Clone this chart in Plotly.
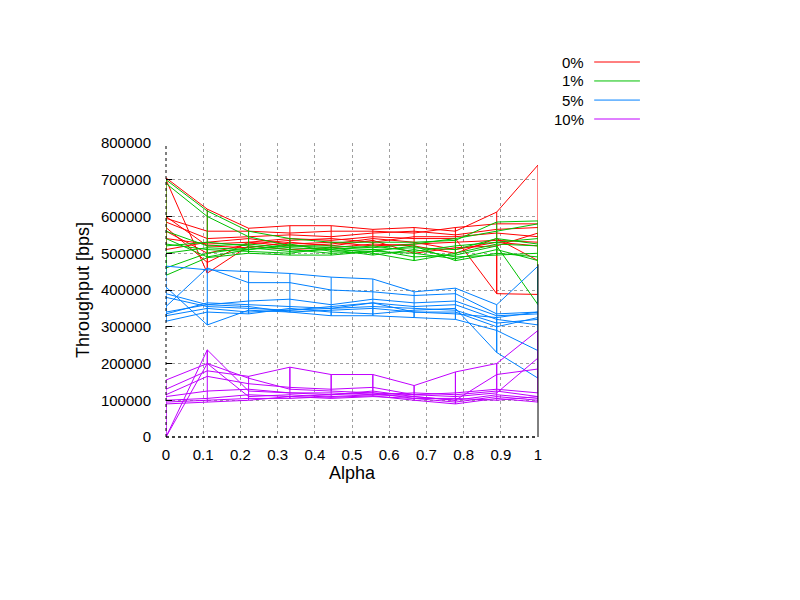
import plotly.graph_objects as go

# alpha sample points (x axis)
alpha = [0, 0.111, 0.222, 0.333, 0.444, 0.556, 0.667, 0.778, 0.889, 1.0]

# throughput rows (bps) per loss rate, one row per second parameter
loss_0 = [
    [705000, 620000, 568000, 575000, 575000, 565000, 570000, 560000, 612000, 740000],
    [595000, 560000, 560000, 555000, 560000, 560000, 555000, 570000, 580000, 580000],
    [585000, 540000, 545000, 550000, 545000, 555000, 560000, 550000, 565000, 570000],
    [570000, 475000, 530000, 540000, 535000, 545000, 540000, 540000, 390000, 388000],
    [560000, 500000, 525000, 535000, 540000, 530000, 545000, 545000, 555000, 545000],
    [540000, 525000, 530000, 520000, 525000, 540000, 530000, 510000, 530000, 520000],
    [700000, 446000, 520000, 510000, 515000, 525000, 520000, 500000, 540000, 480000],
    [510000, 530000, 540000, 525000, 530000, 520000, 525000, 530000, 535000, 530000],
    [600000, 520000, 515000, 530000, 520000, 535000, 500000, 515000, 520000, 555000],
]
loss_1 = [
    [700000, 615000, 560000, 540000, 530000, 530000, 530000, 535000, 585000, 588000],
    [690000, 600000, 545000, 520000, 520000, 515000, 525000, 540000, 560000, 580000],
    [560000, 520000, 525000, 515000, 510000, 520000, 505000, 520000, 530000, 540000],
    [540000, 490000, 510000, 525000, 505000, 510000, 490000, 495000, 520000, 360000],
    [525000, 510000, 505000, 500000, 515000, 500000, 480000, 500000, 525000, 520000],
    [520000, 530000, 520000, 510000, 500000, 505000, 520000, 480000, 500000, 490000],
    [460000, 500000, 515000, 505000, 510000, 495000, 510000, 490000, 495000, 500000],
    [440000, 488000, 500000, 495000, 495000, 505000, 500000, 485000, 510000, 480000],
    [500000, 515000, 510000, 520000, 515000, 510000, 515000, 510000, 540000, 525000],
]
loss_5 = [
    [465000, 455000, 450000, 445000, 435000, 430000, 395000, 405000, 360000, 465000],
    [355000, 460000, 420000, 420000, 400000, 395000, 385000, 390000, 335000, 340000],
    [390000, 360000, 370000, 375000, 360000, 375000, 365000, 370000, 330000, 335000],
    [335000, 365000, 360000, 355000, 350000, 365000, 355000, 360000, 320000, 305000],
    [330000, 350000, 340000, 345000, 350000, 355000, 350000, 345000, 310000, 320000],
    [408000, 305000, 345000, 340000, 345000, 350000, 340000, 340000, 300000, 325000],
    [315000, 340000, 335000, 350000, 340000, 335000, 345000, 350000, 230000, 160000],
    [340000, 360000, 355000, 340000, 330000, 330000, 325000, 320000, 290000, 235000],
    [380000, 355000, 350000, 345000, 355000, 365000, 340000, 335000, 325000, 340000],
]
loss_10 = [
    [155000, 200000, 160000, 130000, 125000, 120000, 115000, 120000, 130000, 120000],
    [130000, 180000, 165000, 190000, 170000, 170000, 140000, 177000, 200000, 290000],
    [115000, 165000, 145000, 135000, 130000, 135000, 115000, 110000, 120000, 215000],
    [110000, 125000, 130000, 120000, 115000, 125000, 110000, 100000, 170000, 185000],
    [100000, 105000, 115000, 110000, 115000, 120000, 105000, 95000, 110000, 100000],
    [95000, 100000, 105000, 105000, 110000, 115000, 110000, 100000, 115000, 105000],
    [0, 237000, 125000, 120000, 120000, 115000, 120000, 115000, 125000, 110000],
    [0, 200000, 110000, 115000, 108000, 112000, 100000, 90000, 105000, 95000],
    [90000, 95000, 100000, 110000, 105000, 110000, 105000, 105000, 100000, 110000],
]

series_names = ['0%', '1%', '5%', '10%']
series_data = [loss_0, loss_1, loss_5, loss_10]
colors = ['#ff0000', '#00c000', '#0080ff', '#c000ff']


def mesh_xy(rows):
    """rows along alpha plus cross lines at each alpha (surface mesh seen edge-on)"""
    xs, ys = [], []
    for row in rows:
        xs += alpha + [None]
        ys += row + [None]
    for i, a in enumerate(alpha):
        xs += [a] * len(rows) + [None]
        ys += [row[i] for row in rows] + [None]
    return xs, ys


fig = go.Figure()
for name, rows, col in zip(series_names, series_data, colors):
    xs, ys = mesh_xy(rows)
    fig.add_trace(go.Scatter(x=xs, y=ys, mode='lines', name=name,
                             line=dict(color=col, width=1),
                             connectgaps=False, showlegend=False))

font = dict(family='Liberation Sans, Arial, sans-serif', size=15, color='#000000')

fig.update_layout(
    width=800, height=600,
    paper_bgcolor='white', plot_bgcolor='white',
    margin=dict(l=158, r=270, t=135, b=171),
    font=font,
    showlegend=False,
    xaxis=dict(range=[0, 1], tickvals=[0, 0.1, 0.2, 0.3, 0.4, 0.5, 0.6, 0.7, 0.8, 0.9, 1],
               ticktext=['0', '0.1', '0.2', '0.3', '0.4', '0.5', '0.6', '0.7', '0.8', '0.9', '1'],
               showgrid=True, gridcolor='#a0a0a0', griddash='dot', gridwidth=1,
               zeroline=False, showline=False, ticks='', ticklabelstandoff=7,
               title=dict(text='Alpha', standoff=3)),
    yaxis=dict(range=[0, 800000], dtick=100000, tickformat='d',
               showgrid=True, gridcolor='#a0a0a0', griddash='dot', gridwidth=1,
               zeroline=False, showline=False, ticks='inside', ticklen=6,
               tickcolor='#000000', ticklabelstandoff=14,
               title=dict(text='Throughput [bps]', standoff=6)),
)

# gnuplot style border: dotted left/bottom, solid partial right
fig.add_shape(type='line', xref='paper', yref='paper', x0=0, x1=0, y0=0, y1=1,
              line=dict(color='black', width=1, dash='dot'))
fig.add_shape(type='line', xref='paper', yref='paper', x0=0, x1=1, y0=0, y1=0,
              line=dict(color='black', width=1.5, dash='dot'))
fig.add_shape(type='line', xref='paper', yref='y', x0=1, x1=1, y0=0, y1=470000,
              line=dict(color='black', width=1))

# legend drawn manually: label right-aligned, sample line to the right
legend_y = [1.2755, 1.211, 1.146, 1.0816]
for name, col, ly in zip(series_names, colors, legend_y):
    fig.add_annotation(xref='paper', yref='paper', x=1.128, y=ly, text=name,
                       showarrow=False, xanchor='right', yanchor='middle', font=font)
    fig.add_shape(type='line', xref='paper', yref='paper', x0=1.151, x1=1.274,
                  y0=ly, y1=ly, line=dict(color=col, width=1))

fig.write_html("out.html")
